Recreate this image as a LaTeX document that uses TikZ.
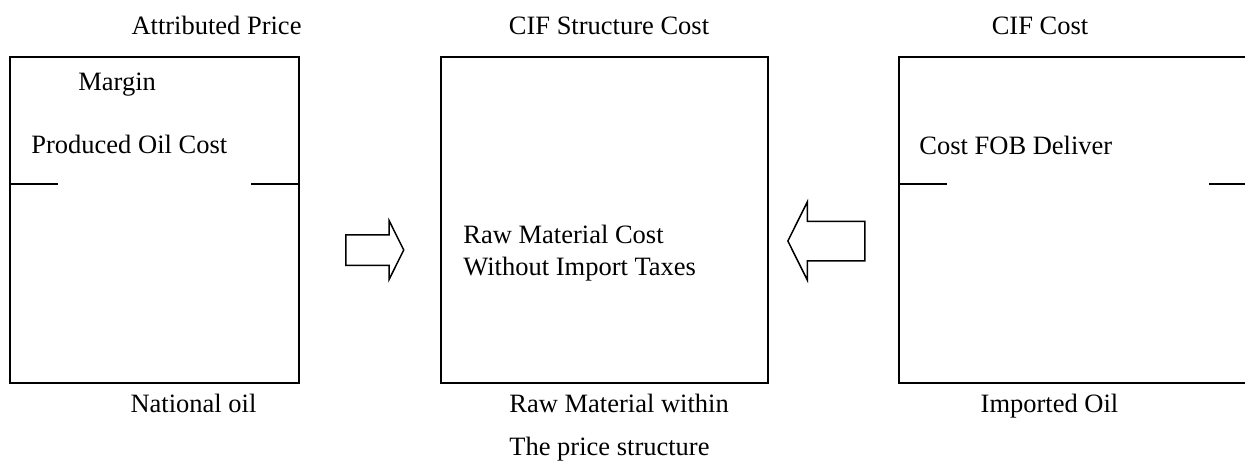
\documentclass[tikz,border=0pt]{standalone}
\usepackage{fontspec}
\setmainfont{Liberation Serif}
\usepackage{tikz}
\usetikzlibrary{shapes, shapes.arrows, positioning}

\begin{document}
\begin{tikzpicture}[x=0.5pt, y=-0.5pt,
        box/.style={draw, line width=1pt, inner sep=0pt, minimum height=163pt},
        lbl/.style={inner sep=0pt, font=\fontsize{13.25}{15}\selectfont},
        fatarrow/.style={single arrow, draw, line width=0.75pt, inner xsep=0pt, single arrow tip angle=127}]
            \clip (0,0) rectangle (1245,461);
            % \draw[help lines] (0,0) grid[step=50] (1245,461);
            \coordinate (tickrow) at (0,184);
            \node[box, minimum width=144.5pt] (national) at (154.5,220) {};
            \node[box, minimum width=163.5pt] (cif) at (604.5,220) {};
            \node[box, minimum width=200pt] (imported) at (1099,220) {};

            \draw[line width=1pt] (national.west |- tickrow) -- ++(49,0);
            \draw[line width=1pt] (national.east |- tickrow) -- ++(-49,0);
            \draw[line width=1pt] (imported.west |- tickrow) -- ++(49,0);
            \draw[line width=1pt] (imported.west |- tickrow) ++(311,0) -- ++(60,0);

            \node[fatarrow, inner ysep=7.25pt, single arrow head extend=7pt, minimum height=29pt, anchor=tail] (toin) at (345,250) {};
            \node[fatarrow, inner ysep=9.5pt, single arrow head extend=9.75pt, minimum height=38.5pt, shape border rotate=180, anchor=tip] (fromout) at (787,241) {};

            \node[lbl, anchor=base] (tattr) at (216.5,34) {Attributed Price};
            \node[lbl, anchor=base] (tcif) at (609,34) {CIF Structure Cost};
            \node[lbl, anchor=base] (tcost) at (1040,34) {CIF Cost};

            \node[lbl, anchor=base west] (margin) at (78,90) {Margin};
            \node[lbl, anchor=base west] (produced) at (31,153) {Produced Oil Cost};
            \node[lbl, anchor=base west] (fob) at (919,154) {Cost FOB Deliver};
            \node[lbl, anchor=base west] (rawcost) at (463,243) {Raw Material Cost};
            \node[lbl, anchor=base west] (notax) at (463,275) {Without Import Taxes};

            \node[lbl, anchor=base] (bnat) at (193.5,412) {National oil};
            \node[lbl, anchor=base west] (bwithin) at (509,412) {Raw Material within};
            \node[lbl, anchor=base west] (bstruct) at (509,455) {The price structure};
            \node[lbl, anchor=base] (bimp) at (1049.5,412) {Imported Oil};
        \end{tikzpicture}
\end{document}
